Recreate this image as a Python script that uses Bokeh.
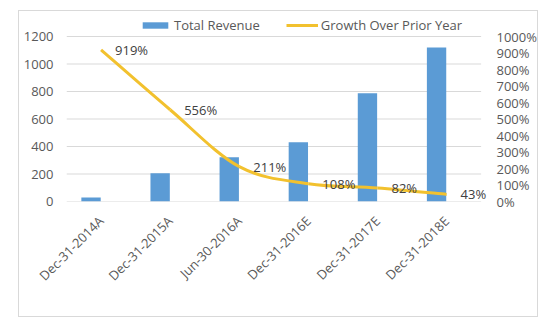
import math
from bokeh.plotting import figure
from bokeh.models import (ColumnDataSource, Range1d, LinearAxis, Legend,
                          LegendItem, FixedTicker, PrintfTickFormatter)
from bokeh.core.properties import value
from bokeh.embed import file_html
from bokeh.resources import INLINE

categories = ["Dec-31-2014A", "Dec-31-2015A", "Jun-30-2016A",
              "Dec-31-2016E", "Dec-31-2017E", "Dec-31-2018E"]
revenue = [30, 206, 322, 431, 788, 1120]
growth = [919, 556, 211, 108, 82, 43]
growth_labels = [f"{g}%" for g in growth]
left_ticks = [0, 200, 400, 600, 800, 1000, 1200]
right_ticks = [0, 100, 200, 300, 400, 500, 600, 700, 800, 900, 1000]

FONT = "Open Sans"
GREY = "#595959"
BLUE = "#5B9BD5"
GOLD = "#F2C12E"
GRID = "#d9d9d9"

n = len(categories)
xc = [i + 0.5 for i in range(n)]          # category centres
xbar = [x - 0.145 for x in xc]             # bars sit left of centre (Excel clustered)

top_left = left_ticks[-1] * 185 / 165      # room above the plot for the legend
top_right = right_ticks[-1] * 185 / 165

p = figure(width=520, height=307, x_range=Range1d(0, n + 0.15),
           y_range=Range1d(0, top_left), output_backend="svg", toolbar_location=None,
           min_border_left=47, min_border_right=48, min_border_top=5, min_border_bottom=117,
           margin=(10, 0, 0, 18))
p.styles = {"border": "1px solid #d9d9d9", "box-sizing": "border-box"}
p.outline_line_color = None
p.xgrid.grid_line_color = None
p.ygrid.grid_line_color = None
p.extra_y_ranges = {"pct": Range1d(0, top_right)}

# horizontal gridlines, spanning the category area only
p.segment(x0=[0] * len(left_ticks), x1=[n] * len(left_ticks), y0=left_ticks, y1=left_ticks,
          line_color=GRID, line_width=1)

src = ColumnDataSource(dict(xc=xc, xb=xbar, rev=revenue, g=growth, lab=growth_labels))

bars = p.vbar(x="xb", top="rev", width=0.28, source=src, fill_color=BLUE, line_color=None)

# smoothed line (Excel-style Bezier through the data points)
ys = growth
bz = dict(x0=[], y0=[], x1=[], y1=[], cx0=[], cy0=[], cx1=[], cy1=[])
for i in range(n - 1):
    xp, yp = (xc[i - 1], ys[i - 1]) if i > 0 else (xc[i], ys[i])
    xn2, yn2 = (xc[i + 2], ys[i + 2]) if i + 2 < n else (xc[i + 1], ys[i + 1])
    bz["x0"].append(xc[i]); bz["y0"].append(ys[i])
    bz["x1"].append(xc[i + 1]); bz["y1"].append(ys[i + 1])
    bz["cx0"].append(xc[i] + (xc[i + 1] - xp) / 6)
    bz["cy0"].append(ys[i] + (ys[i + 1] - yp) / 6)
    bz["cx1"].append(xc[i + 1] - (xn2 - xc[i]) / 6)
    bz["cy1"].append(ys[i + 1] - (yn2 - ys[i]) / 6)
curve = p.bezier(source=ColumnDataSource(bz), x0="x0", y0="y0", x1="x1", y1="y1",
                 cx0="cx0", cy0="cy0", cx1="cx1", cy1="cy1",
                 line_color=GOLD, line_width=3, y_range_name="pct")

p.text(x="xc", y="g", text="lab", source=src, y_range_name="pct", x_offset=14,
       text_align="left", text_baseline="middle", text_font=value(FONT),
       text_font_size="13px", text_color="#404040")

right = LinearAxis(y_range_name="pct", ticker=FixedTicker(ticks=right_ticks),
                   formatter=PrintfTickFormatter(format="%d%%"))
p.add_layout(right, "right")
p.yaxis[0].ticker = FixedTicker(ticks=left_ticks)

for ax in p.yaxis:
    ax.axis_line_color = None
    ax.major_tick_line_color = None
    ax.minor_tick_line_color = None
    ax.major_tick_out = 0
    ax.major_tick_in = 0
    ax.minor_tick_out = 0
    ax.major_label_text_font = FONT
    ax.major_label_text_font_size = "13px"
    ax.major_label_text_color = GREY
p.yaxis[0].major_label_standoff = 13
right.major_label_standoff = 5

xa = p.xaxis[0]
xa.ticker = FixedTicker(ticks=xc)
xa.major_label_overrides = {x: c for x, c in zip(xc, categories)}
xa.axis_line_color = None
xa.major_tick_line_color = None
xa.minor_tick_line_color = None
xa.major_tick_out = 0
xa.major_tick_in = 0
xa.minor_tick_out = 0
xa.major_label_orientation = math.pi / 4
xa.major_label_text_font = FONT
xa.major_label_text_font_size = "13px"
xa.major_label_text_color = GREY
xa.major_label_standoff = 17

legend = Legend(items=[LegendItem(label="Total Revenue", renderers=[bars]),
                       LegendItem(label="Growth Over Prior Year", renderers=[curve])],
                orientation="horizontal", location=(73, 167), padding=0, margin=0,
                spacing=26, label_standoff=3, glyph_width=32, glyph_height=8,
                label_text_font=FONT, label_text_font_size="13px",
                label_text_color=GREY, background_fill_alpha=0, border_line_color=None,
                label_height=16)
p.add_layout(legend)

open("out.html", "w").write(file_html(p, INLINE))
